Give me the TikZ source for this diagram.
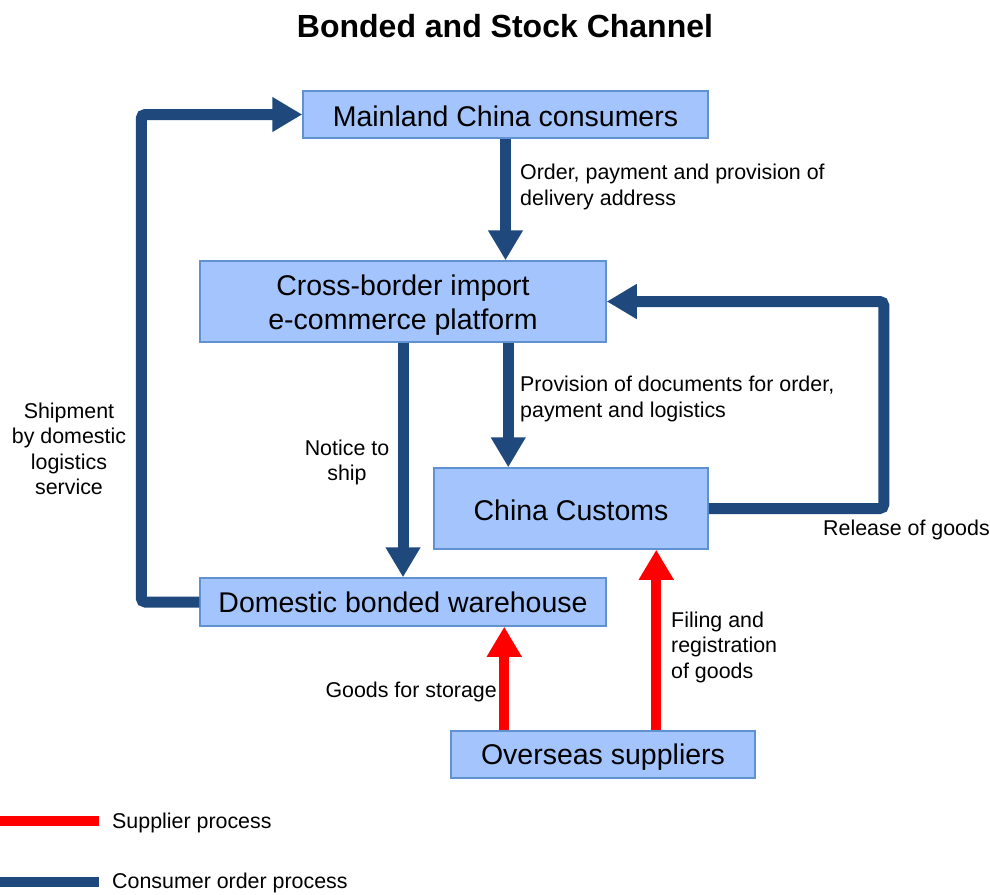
\documentclass[tikz,border=0pt]{standalone}
\usepackage{fontspec}
\setmainfont{Liberation Sans}
\usetikzlibrary{arrows.meta}

\definecolor{boxfill}{RGB}{164,196,254}
\definecolor{boxline}{RGB}{96,146,210}
\definecolor{orderblue}{RGB}{31,73,125}
\definecolor{supplyred}{RGB}{255,0,0}

% lower a line of text without changing the box it occupies
\newcommand{\dropline}[2]{\raisebox{-#1}[\height][\depth]{#2}}

\begin{document}
\begin{tikzpicture}[
  x=1pt, y=-1pt,
  stagebox/.style={draw=boxline, fill=boxfill, line width=1.5pt, inner sep=0pt,
    align=center, font=\fontsize{28.5}{34}\selectfont},
  lbl/.style={inner sep=0pt, font=\fontsize{21.4}{25.5}\selectfont},
  orderflow/.style={draw=orderblue, line width=11pt, rounded corners=4pt,
    -{Triangle[length=30pt,width=33pt]}},
  supplyflow/.style={draw=supplyred, line width=10pt,
    -{Triangle[length=30pt,width=33pt]}},
  legendline/.style={line width=10pt}
]
\useasboundingbox (0,0) rectangle (990,894);

% title
\node[font=\fontsize{32}{36}\selectfont\bfseries] (title) at (505,26) {Bonded and Stock Channel};

% stages
\node[stagebox, minimum width=405pt, minimum height=47pt] (mc) at (505.5,114.5) {\dropline{1.5pt}{Mainland China consumers}};
\node[stagebox, minimum width=406pt, minimum height=81pt] (cb) at (403,301.5) {\dropline{3.5pt}{Cross-border import}\\\dropline{3.5pt}{e-commerce platform}};
\node[stagebox, minimum width=274pt, minimum height=81pt] (cc) at (571,508.5) {\dropline{2pt}{China Customs}};
\node[stagebox, minimum width=406pt, minimum height=48pt] (dw) at (403,602) {Domestic bonded warehouse};
\node[stagebox, minimum width=304pt, minimum height=47pt] (os) at (603,754.5) {\dropline{3pt}{Overseas suppliers}};

% helper points for offset connectors
\coordinate (docx) at ([xshift=75pt]cc.north west);
\coordinate (storex) at ([xshift=54pt]os.north west);
\coordinate (filex) at ([xshift=206pt]os.north west);

% consumer order process
\draw[orderflow] (mc.south) -- (mc.south |- cb.north);
\draw[orderflow] (docx |- cb.south) -- (docx);
\draw[orderflow] (cb.south) -- (dw.north);
\draw[orderflow] (cc.east) -- ++(175,0) |- (cb.east);
\draw[orderflow] (dw.west) -- ++(-58,0) |- (mc.west);

% supplier process
\draw[supplyflow] (storex) -- (storex |- dw.south);
\draw[supplyflow] (filex) -- (filex |- cc.south);

% connector labels
\node[lbl, anchor=west, align=left] (l1) at (520,187) {Order, payment and provision of\\delivery address};
\node[lbl, anchor=west, align=left] (l2) at (520,399) {Provision of documents for order,\\payment and logistics};
\node[lbl, align=center] (l3) at (347,462.5) {Notice to\\ship};
\node[lbl, align=center] (l4) at (69,449) {Shipment\\by domestic\\logistics\\service};
\node[lbl, anchor=west] (l5) at (823,529.5) {Release of goods};
\node[lbl, anchor=east] (l6) at (497,691.5) {Goods for storage};
\node[lbl, anchor=west, align=left] (l7) at (671,647) {Filing and\\registration\\of goods};

% legend
\coordinate (ra) at (0,821);
\coordinate (rb) at (99,821);
\coordinate (ba) at (0,882);
\coordinate (bb) at (99,882);
\draw[legendline, supplyred] (ra) -- (rb);
\draw[legendline, orderblue] (ba) -- (bb);
\node[lbl, anchor=west] (lg1) at (112,823) {Supplier process};
\node[lbl, anchor=west] (lg2) at (112,883) {Consumer order process};
\end{tikzpicture}
\end{document}
